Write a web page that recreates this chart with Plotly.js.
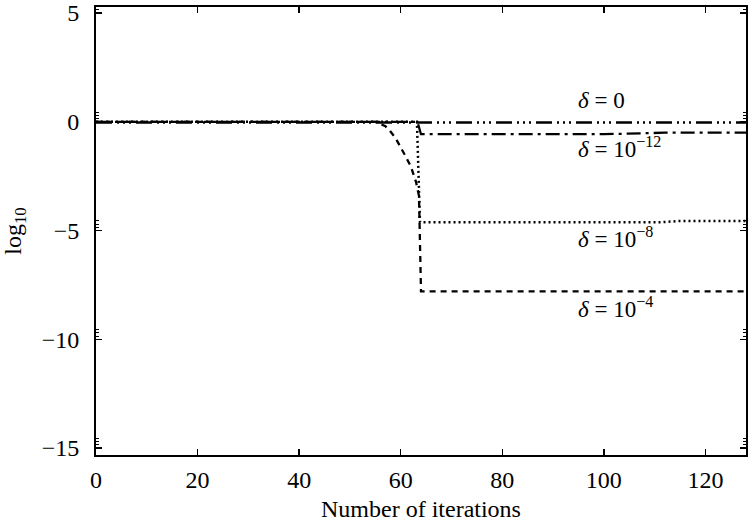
<!DOCTYPE html>
<html>
<head>
<meta charset="utf-8">
<script src="https://cdn.plot.ly/plotly-3.0.1.min.js"></script>
<style>html,body{margin:0;padding:0;background:#fff;}#chart{width:750px;height:525px;}</style>
</head>
<body>
<div id="chart"></div>
<script>
// Data
const xDelta0 = [0, 128];
const yDelta0 = [-0.03, -0.03];

const xDelta12 = [0, 63.3, 64, 100, 112, 128];
const yDelta12 = [0, 0, -0.57, -0.57, -0.5, -0.5];

const xDelta8 = [0, 63.2, 63.8, 111, 115, 128];
const yDelta8 = [0, 0, -4.62, -4.62, -4.56, -4.56];

const xDelta4 = [0, 55, 57, 58, 59, 60, 61, 62, 63, 63.6, 64, 128];
const yDelta4 = [0, 0, -0.2, -0.45, -0.75, -1.15, -1.6, -2.05, -2.75, -3.4, -7.8, -7.8];

const labelText = ["<i>δ</i> = 0", "<i>δ</i> = 10<sup>−12</sup>", "<i>δ</i> = 10<sup>−8</sup>", "<i>δ</i> = 10<sup>−4</sup>"];
const labelX = [94.5, 94.5, 94.5, 94.5];
const labelY = [1.0, -1.2, -5.3, -8.55];

const yMajor = [-15, -10, -5, 0, 5];
const yMinorOffsets = [0.15, 0.3, 0.45];
const yMinor = [];
yMajor.forEach(k => yMinorOffsets.forEach(o => yMinor.push(k + o)));

const FONT = "Liberation Serif, Times New Roman, serif";
const FS = 24;
const lw = 2.3;

const traces = [
  {x: xDelta0, y: yDelta0, mode: "lines", line: {color: "#000", width: lw, dash: "16px,5px,2px,4px,2px,4px,2px,5px"}},
  {x: xDelta12, y: yDelta12, mode: "lines", line: {color: "#000", width: lw, dash: "14px,5px,3px,5px"}},
  {x: xDelta8, y: yDelta8, mode: "lines", line: {color: "#000", width: 2.5, dash: "2px,3px"}},
  {x: xDelta4, y: yDelta4, mode: "lines", line: {color: "#000", width: lw, dash: "6px,5px"}}
];

const annotations = labelText.map((t, i) => ({
  x: labelX[i], y: labelY[i], xref: "x", yref: "y", text: t, showarrow: false,
  xanchor: "left", yanchor: "middle", font: {family: FONT, size: 23, color: "#000"}
}));

const layout = {
  width: 750, height: 525,
  margin: {l: 96, r: 4, t: 7, b: 70},
  paper_bgcolor: "#fff", plot_bgcolor: "#fff",
  showlegend: false,
  font: {family: FONT, size: FS, color: "#000"},
  xaxis: {
    range: [0, 128], tickmode: "array", tickvals: [0, 20, 40, 60, 80, 100, 120],
    ticks: "inside", ticklen: 6, tickwidth: 1.5, tickcolor: "#000",
    showline: true, linecolor: "#000", linewidth: 2, mirror: "ticks",
    showgrid: false, zeroline: false,
    ticklabelstandoff: 2,
    tickfont: {family: FONT, size: FS, color: "#000"},
    title: {text: "Number of iterations", font: {family: FONT, size: FS, color: "#000"}, standoff: 8}
  },
  yaxis: {
    range: [-15.32, 5.28], tickmode: "array", tickvals: yMajor,
    ticks: "inside", ticklen: 6, tickwidth: 1.5, tickcolor: "#000",
    minor: {tickmode: "array", tickvals: yMinor, ticks: "inside", ticklen: 3, tickwidth: 1, tickcolor: "#000", showgrid: false},
    showline: true, linecolor: "#000", linewidth: 2, mirror: "ticks",
    showgrid: false, zeroline: false,
    ticklabelstandoff: 10,
    tickfont: {family: FONT, size: FS, color: "#000"},
    title: {text: "log<sub>10</sub>", font: {family: FONT, size: FS, color: "#000"}, standoff: 14}
  },
  annotations: annotations
};

Plotly.newPlot("chart", traces, layout, {staticPlot: true, displayModeBar: false});
</script>
</body>
</html>
